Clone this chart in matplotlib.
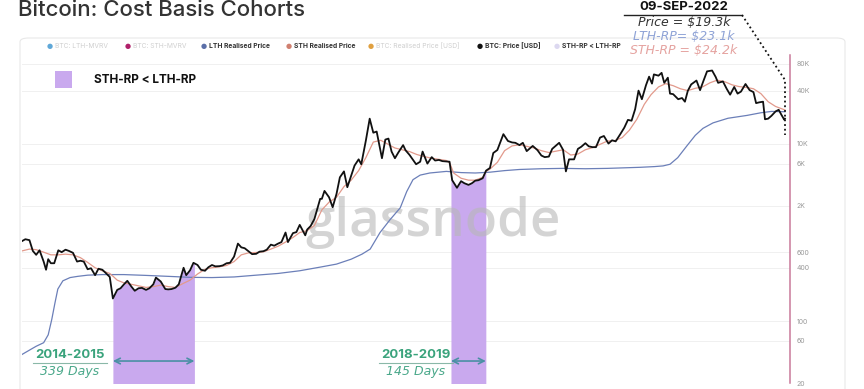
import matplotlib
matplotlib.use('Agg')
import matplotlib.pyplot as plt
import matplotlib.dates as mdates
import numpy as np
import pandas as pd
from matplotlib.patches import FancyBboxPatch, Rectangle
from matplotlib.lines import Line2D

plt.rcParams['font.family'] = ['Inter', 'DejaVu Sans']

# BTC price (roughly twice a month)
price_dates = [
    '2014-01-01', '2014-01-15', '2014-02-01', '2014-02-15', '2014-03-01', '2014-03-15',
    '2014-04-01', '2014-04-11', '2014-04-20', '2014-05-01', '2014-05-15', '2014-06-01',
    '2014-06-15', '2014-07-01', '2014-07-15', '2014-08-01', '2014-08-18', '2014-09-01',
    '2014-09-15', '2014-10-01', '2014-10-15', '2014-11-01', '2014-11-15', '2014-12-01',
    '2014-12-15', '2015-01-01', '2015-01-14', '2015-02-01', '2015-02-15', '2015-03-01',
    '2015-03-15', '2015-04-01', '2015-04-15', '2015-05-01', '2015-05-15', '2015-06-01',
    '2015-06-15', '2015-07-01', '2015-07-12', '2015-08-01', '2015-08-20', '2015-09-01',
    '2015-09-15', '2015-10-01', '2015-10-15', '2015-11-04', '2015-11-15', '2015-12-01',
    '2015-12-15', '2016-01-01', '2016-01-15', '2016-02-01', '2016-02-15', '2016-03-01',
    '2016-03-15', '2016-04-01', '2016-04-15', '2016-05-01', '2016-05-15', '2016-06-01',
    '2016-06-17', '2016-07-01', '2016-07-15', '2016-08-01', '2016-08-15', '2016-09-01',
    '2016-09-15', '2016-10-01', '2016-10-15', '2016-11-01', '2016-11-15', '2016-12-01',
    '2016-12-15', '2017-01-01', '2017-01-11', '2017-02-01', '2017-02-15', '2017-03-01',
    '2017-03-24', '2017-04-01', '2017-04-15', '2017-05-01', '2017-05-25', '2017-06-01',
    '2017-06-12', '2017-07-01', '2017-07-16', '2017-08-01', '2017-08-15', '2017-09-01',
    '2017-09-15', '2017-10-01', '2017-10-15', '2017-11-01', '2017-11-12', '2017-12-01',
    '2017-12-17', '2018-01-01', '2018-01-15', '2018-02-06', '2018-02-20', '2018-03-05',
    '2018-03-18', '2018-04-01', '2018-04-15', '2018-05-05', '2018-05-15', '2018-06-01',
    '2018-06-28', '2018-07-15', '2018-07-25', '2018-08-14', '2018-09-01', '2018-09-15',
    '2018-10-01', '2018-10-15', '2018-11-01', '2018-11-14', '2018-11-25', '2018-12-15',
    '2019-01-01', '2019-01-15', '2019-02-01', '2019-02-15', '2019-03-01', '2019-03-15',
    '2019-04-01', '2019-04-15', '2019-05-01', '2019-05-15', '2019-06-01', '2019-06-26',
    '2019-07-15', '2019-08-01', '2019-08-15', '2019-09-01', '2019-09-15', '2019-10-01',
    '2019-10-26', '2019-11-15', '2019-12-01', '2019-12-15', '2020-01-01', '2020-01-15',
    '2020-02-13', '2020-02-29', '2020-03-12', '2020-03-25', '2020-04-15', '2020-05-01',
    '2020-05-15', '2020-06-01', '2020-06-15', '2020-07-01', '2020-07-15', '2020-08-01',
    '2020-08-17', '2020-09-05', '2020-09-20', '2020-10-05', '2020-10-25', '2020-11-10',
    '2020-11-25', '2020-12-10', '2020-12-25', '2021-01-08', '2021-01-22', '2021-02-08',
    '2021-02-21', '2021-03-05', '2021-03-13', '2021-04-01', '2021-04-14', '2021-04-25',
    '2021-05-10', '2021-05-19', '2021-06-01', '2021-06-22', '2021-07-08', '2021-07-20',
    '2021-08-01', '2021-08-15', '2021-09-06', '2021-09-21', '2021-10-05', '2021-10-20',
    '2021-11-10', '2021-11-25', '2021-12-05', '2021-12-25', '2022-01-10', '2022-01-24',
    '2022-02-10', '2022-02-24', '2022-03-10', '2022-03-29', '2022-04-15', '2022-05-01',
    '2022-05-12', '2022-05-25', '2022-06-10', '2022-06-18', '2022-07-01', '2022-07-15',
    '2022-08-01', '2022-08-14', '2022-08-25', '2022-09-06', '2022-09-09',
]
price_usd = [
    800, 840, 820, 620, 560, 630,
    470, 380, 500, 450, 450, 630,
    600, 640, 620, 590, 470, 480,
    470, 385, 395, 330, 390, 380,
    350, 315, 180, 225, 235, 260,
    285, 245, 220, 235, 237, 225,
    235, 260, 310, 280, 230, 228,
    230, 238, 260, 400, 330, 375,
    455, 430, 380, 370, 405, 430,
    415, 417, 425, 450, 455, 535,
    750, 680, 665, 610, 570, 575,
    608, 615, 640, 730, 710, 750,
    780, 1000, 780, 985, 1010, 1220,
    930, 1080, 1180, 1420, 2400, 2400,
    2950, 2500, 1930, 2730, 4200, 4900,
    3250, 4400, 5700, 6700, 5900, 10900,
    19300, 13400, 13800, 6900, 11200, 11500,
    8200, 6900, 8000, 9700, 8500, 7500,
    5900, 6300, 8200, 6000, 7100, 6500,
    6600, 6400, 6350, 6300, 3900, 3200,
    3800, 3600, 3450, 3600, 3850, 3900,
    4100, 5000, 5350, 7900, 8550, 12900,
    10800, 10400, 10300, 9700, 10300, 8300,
    9500, 8500, 7400, 7100, 7200, 8800,
    10300, 8600, 4900, 6700, 6700, 8800,
    9300, 10200, 9400, 9200, 9200, 11800,
    12300, 10100, 11000, 10700, 13000, 15300,
    18700, 18300, 24700, 40000, 32000, 46000,
    57500, 48000, 61000, 59000, 63500, 49000,
    56000, 37000, 36500, 32000, 33000, 30000,
    39800, 47000, 52000, 40500, 51500, 66000,
    67500, 57000, 49000, 50800, 41800, 36000,
    44000, 37000, 39000, 47500, 40500, 38500,
    28900, 29500, 30000, 19000, 19300, 20800,
    23300, 24300, 21400, 18800, 19300,
]

# Short-term holder realised price
sth_dates = [
    '2014-01-01', '2014-02-01', '2014-03-01', '2014-04-01', '2014-05-01', '2014-06-01',
    '2014-07-01', '2014-08-01', '2014-09-01', '2014-10-01', '2014-11-01', '2014-12-01',
    '2015-01-01', '2015-01-15', '2015-02-01', '2015-03-01', '2015-04-01', '2015-05-01',
    '2015-06-01', '2015-07-01', '2015-08-01', '2015-09-01', '2015-10-01', '2015-11-01',
    '2015-12-01', '2016-01-01', '2016-02-01', '2016-03-01', '2016-04-01', '2016-05-01',
    '2016-06-01', '2016-07-01', '2016-08-01', '2016-09-01', '2016-10-01', '2016-11-01',
    '2016-12-01', '2017-01-01', '2017-02-01', '2017-03-01', '2017-04-01', '2017-05-01',
    '2017-06-01', '2017-07-01', '2017-08-01', '2017-09-01', '2017-10-01', '2017-11-01',
    '2017-12-01', '2018-01-01', '2018-02-01', '2018-03-01', '2018-04-01', '2018-05-01',
    '2018-06-01', '2018-07-01', '2018-08-01', '2018-09-01', '2018-10-01', '2018-11-01',
    '2018-11-15', '2018-12-01', '2019-01-01', '2019-02-01', '2019-03-01', '2019-04-01',
    '2019-04-15', '2019-05-01', '2019-06-01', '2019-07-01', '2019-08-01', '2019-09-01',
    '2019-10-01', '2019-11-01', '2019-12-01', '2020-01-01', '2020-02-01', '2020-03-01',
    '2020-04-01', '2020-05-01', '2020-06-01', '2020-07-01', '2020-08-01', '2020-09-01',
    '2020-10-01', '2020-11-01', '2020-12-01', '2021-01-01', '2021-02-01', '2021-03-01',
    '2021-04-01', '2021-05-01', '2021-06-01', '2021-07-01', '2021-08-01', '2021-09-01',
    '2021-10-01', '2021-11-01', '2021-12-01', '2022-01-01', '2022-02-01', '2022-03-01',
    '2022-04-01', '2022-05-01', '2022-06-01', '2022-07-01', '2022-08-01', '2022-09-09',
]
sth_rp = [
    620, 650, 640, 600, 560, 560,
    570, 560, 520, 460, 400, 370,
    345, 320, 290, 270, 260, 250,
    240, 245, 255, 245, 240, 265,
    290, 340, 385, 400, 410, 425,
    470, 560, 590, 595, 605, 650,
    700, 780, 880, 1000, 1050, 1200,
    1800, 2200, 2500, 3300, 3900, 5000,
    7000, 10500, 11000, 10000, 9000, 8600,
    8200, 7600, 7200, 6900, 6700, 6500,
    6100, 4700, 4100, 3900, 3900, 4200,
    4900, 5200, 6200, 8400, 9500, 9800,
    9400, 9000, 8400, 8000, 8300, 8600,
    7500, 7700, 8600, 9100, 9900, 10800,
    10900, 11800, 14300, 19000, 28000, 36000,
    44000, 48000, 45500, 42000, 40000, 42500,
    44000, 49000, 52500, 50500, 46500, 44500,
    43500, 42000, 37000, 30000, 26500, 24200,
]

# Long-term holder realised price
lth_dates = [
    '2014-01-01', '2014-02-01', '2014-03-01', '2014-04-01', '2014-04-20', '2014-05-05',
    '2014-05-18', '2014-05-30', '2014-06-20', '2014-07-20', '2014-08-21', '2014-10-01',
    '2014-12-01', '2015-03-01', '2015-06-01', '2015-09-01', '2015-12-01', '2016-03-01',
    '2016-06-01', '2016-09-01', '2016-12-01', '2017-03-01', '2017-06-01', '2017-08-01',
    '2017-10-01', '2017-11-15', '2017-12-19', '2018-01-29', '2018-03-12', '2018-04-23',
    '2018-05-20', '2018-06-15', '2018-07-15', '2018-08-24', '2018-11-01', '2019-01-01',
    '2019-03-01', '2019-05-01', '2019-07-01', '2019-09-01', '2019-12-01', '2020-03-01',
    '2020-06-01', '2020-09-01', '2020-12-01', '2021-01-15', '2021-03-15', '2021-04-20',
    '2021-05-19', '2021-06-20', '2021-07-28', '2021-09-01', '2021-10-03', '2021-11-14',
    '2022-01-15', '2022-04-04', '2022-06-01', '2022-07-15', '2022-09-09',
]
lth_rp = [
    42, 47, 52, 57, 70, 105,
    160, 230, 285, 310, 320, 330,
    335, 335, 328, 320, 312, 310,
    315, 330, 345, 370, 410, 440,
    500, 570, 650, 1000, 1400, 1900,
    2900, 3950, 4450, 4700, 4900, 4750,
    4700, 4800, 5000, 5150, 5250, 5300,
    5250, 5300, 5400, 5450, 5550, 5650,
    5900, 7000, 9500, 12500, 15000, 17300,
    19500, 21000, 22500, 23300, 23100,
]

# periods where STH-RP < LTH-RP
shade_starts = ['2015-01-14', '2018-11-20']
shade_ends = ['2015-12-19', '2019-04-14']
shade_years = ['2014-2015', '2018-2019']
shade_days = [339, 145]

y_ticks = [20, 60, 100, 400, 600, 2000, 6000, 10000, 40000, 80000]
y_tick_labels = ['20', '60', '100', '400', '600', '2K', '6K', '10K', '40K', '80K']

last_date = '09-SEP-2022'
last_price = 19.3
last_lth = 23.1
last_sth = 24.2

W, H = 864, 389


def fx(px):
    return px / W


def fy(py):
    return 1 - py / H


fig = plt.figure(figsize=(W / 100, H / 100), dpi=100)
fig.patch.set_facecolor('white')

# panel frame
fig.add_artist(FancyBboxPatch((fx(20), fy(395)), fx(825), (395 - 38) / H,
                              boxstyle='round,pad=0,rounding_size=0.01',
                              transform=fig.transFigure, facecolor='none',
                              edgecolor='#e8e8e8', lw=0.8))

ax = fig.add_axes([fx(22), fy(383), fx(790 - 22), (383 - 55) / H])
ax.set_facecolor('none')
ax.set_axisbelow(True)

pd_price = mdates.date2num(pd.to_datetime(price_dates))
pd_sth = mdates.date2num(pd.to_datetime(sth_dates))
pd_lth = mdates.date2num(pd.to_datetime(lth_dates))
price = np.array(price_usd, dtype=float)

ax.set_yscale('log')
ax.set_ylim(21, 101000)
ax.set_xlim(mdates.date2num(pd.Timestamp('2014-01-01')),
            mdates.date2num(pd.Timestamp('2022-09-30')))

# shaded periods, filled from the bottom up to the price line
for s, e in zip(shade_starts, shade_ends):
    s0 = mdates.date2num(pd.Timestamp(s))
    e0 = mdates.date2num(pd.Timestamp(e))
    inside = (pd_price > s0) & (pd_price < e0)
    xs = np.concatenate([[s0], pd_price[inside], [e0]])
    ys = np.concatenate([[np.interp(s0, pd_price, price)], price[inside],
                         [np.interp(e0, pd_price, price)]])
    ax.fill_between(xs, 1, ys, color='#c9a9ee', lw=0, zorder=1)

ax.plot(pd_lth, lth_rp, color='#6b7fb8', lw=0.9, zorder=3)
ax.plot(pd_sth, sth_rp, color='#e29a8c', lw=0.9, zorder=3)
ax.plot(pd_price, price, color='#111111', lw=1.3, zorder=4)

# watermark
ax.text(0.535, 0.49, 'glassnode', transform=ax.transAxes, ha='center', va='center',
        fontsize=38, weight='semibold', color='#b8b8b8', alpha=0.6, zorder=2,
        family=['Open Sans', 'DejaVu Sans'])

ax.set_yticks(y_ticks)
ax.set_yticklabels(y_tick_labels)
ax.minorticks_off()
ax.yaxis.tick_right()
ax.tick_params(axis='y', length=0, pad=5, labelsize=5, labelcolor='#9a9a9a')
ax.set_xticks([])
ax.grid(axis='y', color='#f0f0f0', lw=0.7)
for side in ['left', 'top', 'bottom']:
    ax.spines[side].set_visible(False)
ax.spines['right'].set_color('#c9799a')
ax.spines['right'].set_linewidth(1.1)

# day-count arrows under the shaded periods
for s, e, yr, nd, cx in zip(shade_starts, shade_ends, shade_years, shade_days, [70, 416]):
    ax.annotate('', xy=(pd.Timestamp(e), 0.067), xytext=(pd.Timestamp(s), 0.067),
                xycoords=('data', 'axes fraction'), textcoords=('data', 'axes fraction'),
                arrowprops=dict(arrowstyle='<->', color='#4a90a4', lw=1.2,
                                shrinkA=0, shrinkB=0))
    fig.text(fx(cx), fy(355), yr, ha='center', va='center', fontsize=9.5,
             weight='bold', color='#3aa37c')
    fig.add_artist(Line2D([fx(cx - 37), fx(cx + 37)], [fy(363), fy(363)],
                          color='#8ab8a8', lw=0.8, transform=fig.transFigure))
    fig.text(fx(cx), fy(371), f'{nd} Days', ha='center', va='center', fontsize=9,
             style='italic', color='#4aa88a', family=['DejaVu Sans'])

# title (cropped at the top in the screenshot)
fig.text(fx(18), fy(16), 'Bitcoin: Cost Basis Cohorts', ha='left', va='baseline',
         fontsize=16, weight='medium', color='#333333')

# glassnode legend row
legend_items = [
    (50, '#5fa8d8', 'BTC: LTH-MVRV', False),
    (128, '#b0206a', 'BTC: STH-MVRV', False),
    (204, '#5b6fa8', 'LTH Realised Price', True),
    (289, '#d08070', 'STH Realised Price', True),
    (371, '#e0a040', 'BTC: Realised Price [USD]', False),
    (480, '#111111', 'BTC: Price [USD]', True),
    (557, '#dcd8f0', 'STH-RP < LTH-RP', True),
]
for x0, c, label, active in legend_items:
    fig.text(fx(x0), fy(46), '\u25cf', ha='center', va='center', fontsize=5, color=c,
             family=['DejaVu Sans'])
    fig.text(fx(x0 + 5), fy(46), label, ha='left', va='center', fontsize=4.8,
             weight='bold' if active else 'normal',
             color='#333333' if active else '#cfcfcf')

fig.add_artist(Rectangle((fx(55), fy(88)), fx(17), 17 / H, transform=fig.transFigure,
                         facecolor='#c9a9ee', edgecolor='none'))
fig.text(fx(94), fy(80), 'STH-RP < LTH-RP', ha='left', va='center', fontsize=8.5,
         weight='bold', color='#111111')

# latest values call-out
fig.text(fx(684), fy(7), last_date, ha='center', va='center', fontsize=9.5,
         weight='bold', color='#111111')
fig.add_artist(Line2D([fx(624), fx(742)], [fy(14.5), fy(14.5)], color='#222222', lw=1,
                      transform=fig.transFigure))
fig.text(fx(684), fy(22), f'Price = ${last_price}k', ha='center', va='center', fontsize=9,
         style='italic', color='#333333', family=['DejaVu Sans'])
fig.text(fx(684), fy(36), f'LTH-RP= ${last_lth}k', ha='center', va='center', fontsize=9,
         style='italic', color='#8fa3d6', family=['DejaVu Sans'])
fig.text(fx(684), fy(50), f'STH-RP = ${last_sth}k', ha='center', va='center', fontsize=9,
         style='italic', color='#e5a3a0', family=['DejaVu Sans'])
fig.add_artist(Line2D([fx(742), fx(785), fx(785)], [fy(15), fy(80), fy(135)],
                      color='#111111', lw=1.3, ls=(0, (1, 1.6)),
                      transform=fig.transFigure))

fig.savefig('out.png', dpi=100)
